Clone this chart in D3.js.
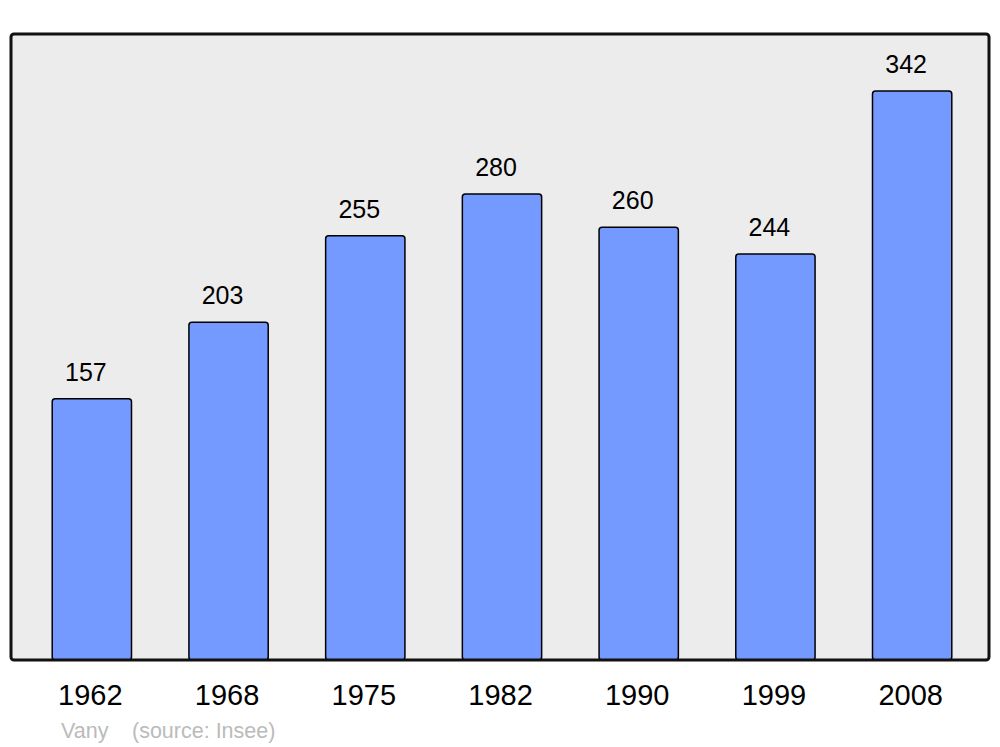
<!DOCTYPE html>
<html>
<head>
<meta charset="utf-8">
<script src="https://cdn.jsdelivr.net/npm/d3@7"></script>
<style>
  body { margin: 0; background: #fff; }
  text { font-family: "Liberation Sans", Arial, sans-serif; }
</style>
</head>
<body>
<div class="chart"></div>
<script>
// Population by census year
const YEARS = ['1962', '1968', '1975', '1982', '1990', '1999', '2008']
const POPULATION = [157, 203, 255, 280, 260, 244, 342]

const svgWidth = 1000
const svgHeight = 747

const frame = { left: 11, top: 34, right: 989, bottom: 660 }

var svg = d3.select('.chart')
    .append('svg')
    .attr('width', svgWidth)
    .attr('height', svgHeight)

// Plot background
svg.append('rect')
    .attr('x', frame.left)
    .attr('y', frame.top)
    .attr('width', frame.right - frame.left)
    .attr('height', frame.bottom - frame.top)
    .attr('rx', 3)
    .attr('fill', '#ececec')

var xScale = d3.scaleBand()
    .domain(YEARS)
    .range([23.5, 980.5])
    .paddingInner(0.42)
    .paddingOuter(0.21)

var yScale = d3.scaleLinear()
    .domain([0, d3.max(POPULATION) * 1.1])
    .range([frame.bottom, frame.top])

var data = YEARS.map((y, i) => ({ year: y, value: POPULATION[i] }))

var bars = svg.append('g')

bars.selectAll('rect')
    .data(data)
    .enter()
    .append('rect')
    .attr('x', d => xScale(d.year))
    .attr('y', d => yScale(d.value))
    .attr('width', xScale.bandwidth())
    .attr('height', d => frame.bottom - yScale(d.value))
    .attr('rx', 3)
    .attr('fill', '#7499ff')
    .attr('stroke', '#000')
    .attr('stroke-width', 1.5)

// Value labels above bars
bars.selectAll('.value')
    .data(data)
    .enter()
    .append('text')
    .classed('value', true)
    .attr('x', d => xScale(d.year) + xScale.bandwidth() / 2 - 6)
    .attr('y', d => yScale(d.value) - 18)
    .attr('text-anchor', 'middle')
    .attr('font-size', '25px')
    .attr('fill', '#000')
    .text(d => d.value)

// Frame drawn over the bar bottoms
svg.append('rect')
    .attr('x', frame.left)
    .attr('y', frame.top)
    .attr('width', frame.right - frame.left)
    .attr('height', frame.bottom - frame.top)
    .attr('rx', 3)
    .attr('fill', 'none')
    .attr('stroke', '#111')
    .attr('stroke-width', 3)

// X axis labels
var xAxis = svg.append('g')
    .attr('transform', `translate(0, ${frame.bottom})`)
    .call(d3.axisBottom(xScale).tickSize(0).tickPadding(0))

xAxis.select('.domain').remove()
xAxis.selectAll('text')
    .attr('dy', null)
    .attr('x', -1.5)
    .attr('y', 45)
    .attr('font-size', '29px')
    .attr('font-family', '"Liberation Sans", Arial, sans-serif')
    .attr('fill', '#000')

// Credit line
svg.append('text')
    .attr('x', 61)
    .attr('y', 738)
    .attr('font-size', '21.5px')
    .attr('fill', '#bbb')
    .text('Vany')

svg.append('text')
    .attr('x', 132)
    .attr('y', 738)
    .attr('font-size', '21.5px')
    .attr('fill', '#bbb')
    .text('(source: Insee)')
</script>
</body>
</html>
